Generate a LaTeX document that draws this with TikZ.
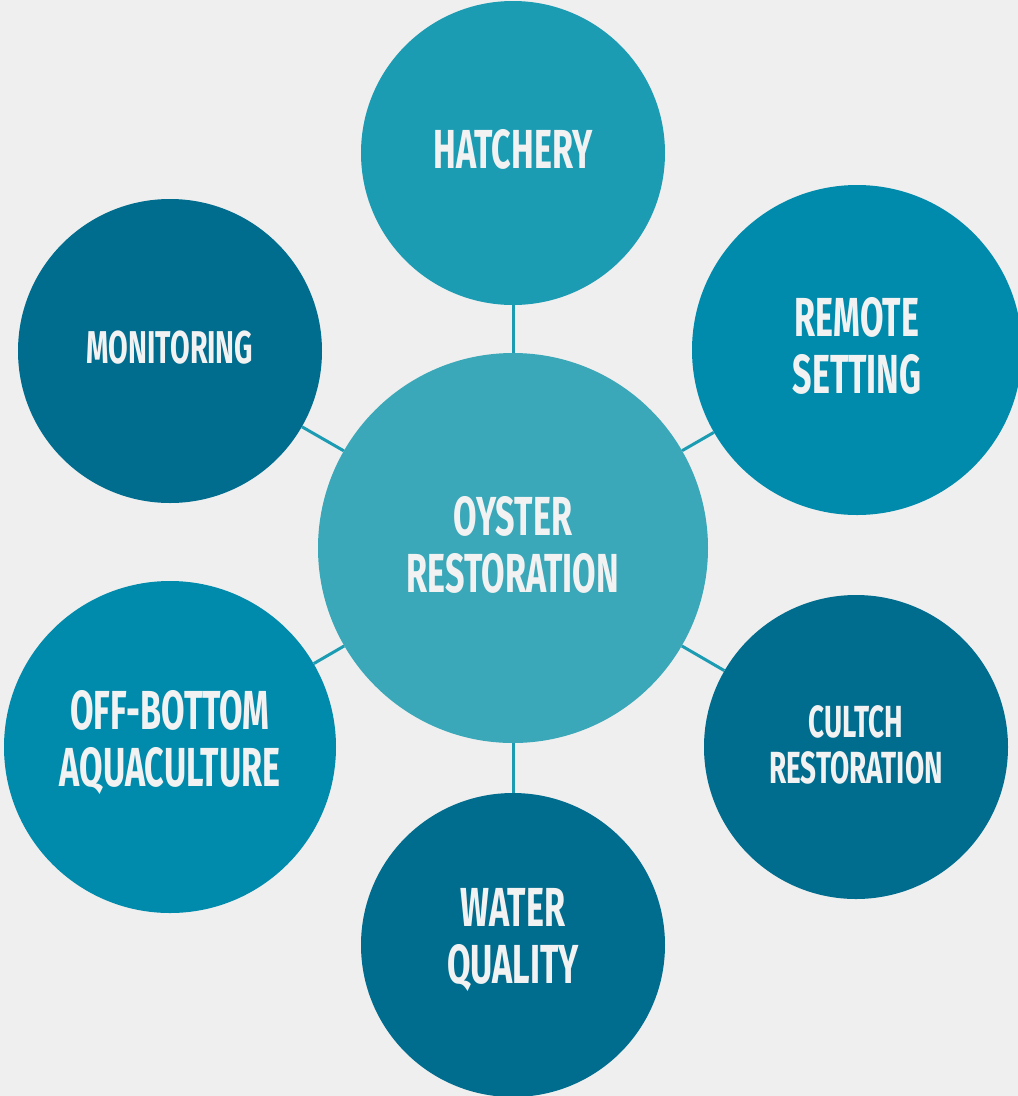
\documentclass[tikz,border=0pt]{standalone}
\usepackage{fontspec}
\newfontfamily\lblfont[FakeStretch=0.62]{Fira Sans}
\definecolor{bgc}{HTML}{EFEFEF}
\definecolor{hatc}{HTML}{1C9CB3}
\definecolor{midc}{HTML}{008BAC}
\definecolor{darkc}{HTML}{006C8E}
\definecolor{cenc}{HTML}{3AA8B8}
\definecolor{txtc}{HTML}{F2F2F2}
\tikzset{
  bubble/.style={circle, inner sep=0pt, minimum size=#1},
  lbl/.style={text=txtc, align=center, font=\lblfont\bfseries\fontsize{55}{57}\selectfont},
  lblsmall/.style={text=txtc, align=center, font=\lblfont\bfseries\fontsize{45}{46}\selectfont},
  conn/.style={draw=hatc, line width=3pt}
}
\begin{document}
\begin{tikzpicture}[x=1pt,y=-1pt]
\useasboundingbox[fill=bgc] (0,0) rectangle (1018,1096);
\node[bubble=390pt, fill=cenc] (c) at (513,548) {};
\node[bubble=304pt, fill=hatc] (h) at (513,153) {};
\node[bubble=330pt, fill=midc] (r) at (857,350) {};
\node[bubble=304pt, fill=darkc] (m) at (170,351) {};
\node[bubble=332pt, fill=midc] (o) at (170,747) {};
\node[bubble=304pt, fill=darkc] (cu) at (856,747) {};
\node[bubble=304pt, fill=darkc] (w) at (513,945) {};
\foreach \n in {h,r,m,o,cu,w} \draw[conn] (c) -- (\n);
\node[lbl] (tc) at ([yshift=3pt]c.center) {OYSTER\\RESTORATION};
\node[lbl] (th) at ([yshift=4pt]h.center) {HATCHERY};
\node[lbl] (tr) at ([yshift=4pt]r.center) {REMOTE\\SETTING};
\node[lbl, font=\lblfont\bfseries\fontsize{46}{46}\selectfont] (tm) at ([yshift=3pt]m.center) {MONITORING};
\node[lbl] (to) at ([yshift=4pt]o.center) {OFF-BOTTOM\\AQUACULTURE};
\node[lblsmall] (tcu) at ([yshift=2pt]cu.center) {CULTCH\\RESTORATION};
\node[lbl] (tw) at ([yshift=5pt]w.center) {WATER\\QUALITY};
\end{tikzpicture}
\end{document}
